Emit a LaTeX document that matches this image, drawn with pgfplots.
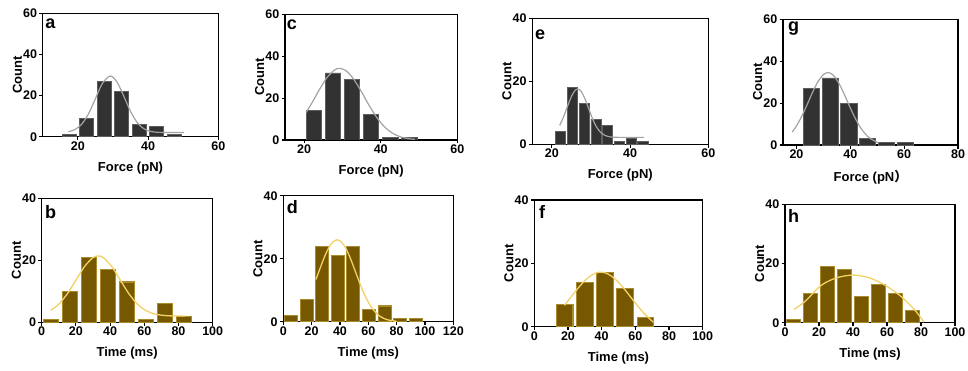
\documentclass[border=0pt]{standalone}
\usepackage{fontspec}
\setmainfont{Liberation Sans}
\newfontfamily\cjk{Noto Sans CJK SC}
\usepackage{pgfplots}
\pgfplotsset{compat=1.18}

\definecolor{darkbar}{HTML}{323232}
\definecolor{darkedge}{HTML}{5E5E5E}
\definecolor{goldbar}{HTML}{765800}
\definecolor{goldedge}{HTML}{A98B2A}
\definecolor{fitgrey}{HTML}{A3A3A3}
\definecolor{fityellow}{HTML}{F2D266}

\tikzset{letter/.style={anchor=base west, inner sep=0pt, font=\fontsize{18}{20}\selectfont\bfseries}}

\pgfplotsset{
 panel/.style={scale only axis, anchor=south west, ymin=0,
   axis line style={line width=1.3pt},
   every tick/.style={black, line width=1.1pt},
   tick align=outside, major tick length=3.5pt,
   xtick pos=bottom, ytick pos=left,
   tick label style={font=\fontsize{12.5}{14}\selectfont\bfseries},
   xticklabel style={inner sep=1pt},
   yticklabel style={inner sep=2pt},
   /pgf/number format/assume math mode=true,
   every axis x label/.style={at={(rel axis cs:0.5,0)}, anchor=north, inner sep=0pt, yshift=-25pt, font=\fontsize{13}{15}\selectfont\bfseries},
   every axis y label/.style={at={(rel axis cs:0,0.5)}, xshift=-20.5pt, rotate=90, anchor=south, inner sep=0pt, font=\fontsize{13}{15}\selectfont\bfseries},
   ylabel=Count,
 },
 darkbars/.style={ybar, fill=darkbar, draw=darkedge, line width=0.9pt},
 goldbars/.style={ybar, fill=goldbar, draw=goldedge, line width=1.1pt},
 fitg/.style={smooth, mark=none, color=fitgrey, line width=1.2pt},
 fity/.style={smooth, mark=none, color=fityellow, line width=1.3pt},
}

\begin{document}
\begin{tikzpicture}[x=1pt,y=1pt]
\useasboundingbox (0,0) rectangle (968,370);

% ---------- a ----------
\begin{axis}[panel, at={(42.7pt,233.3pt)}, width=175.6pt, height=123.4pt,
  xmin=10, xmax=60, ymax=60, xtick={20,40,60}, ytick={0,20,40,60}, xlabel={Force (pN)}]
\addplot[darkbars, bar width=4] coordinates {(17.5,1) (22.5,9) (27.5,27) (32.5,22) (37.5,6) (42.5,5) (47.5,1)};
\addplot[fitg] coordinates {(17.3,2.45) (19,3.34) (21,5.89) (23,11.0) (25,18.47) (27,25.9) (29.2,29.5) (31,27.03) (33,20.07) (35,12.34) (37,6.69) (39,3.69) (41,2.48) (43,2.11) (46,2.0) (50.3,2.0)};
\node[letter, xshift=2.5pt, yshift=-15pt] at (rel axis cs:0,1) {a};
\end{axis}

% ---------- c ----------
\begin{axis}[panel, at={(285pt,230pt)}, width=172.3pt, height=125.7pt,
  xmin=15, xmax=60, ymax=60, xtick={20,40,60}, ytick={0,20,40,60}, xlabel={Force (pN)}]
\addplot[darkbars, bar width=4] coordinates {(22.5,14) (27.5,32) (32.5,29) (37.5,12) (42.5,1) (47.5,1)};
\addplot[fitg] coordinates {(20.5,13.1) (22,17.6) (24,24.1) (26,29.9) (28,33.5) (29.3,34.2) (31,33.0) (33,28.9) (35,22.9) (37,16.4) (39,10.65) (41,6.26) (43,3.33) (45,1.61) (47,0.70) (49,0.28)};
\node[letter, xshift=1.7pt, yshift=-15pt] at (rel axis cs:0,1) {c};
\end{axis}

% ---------- e ----------
\begin{axis}[panel, at={(532.3pt,225.7pt)}, width=176pt, height=126pt,
  xmin=15, xmax=60, ymax=40, xtick={20,40,60}, ytick={0,20,40}, xlabel={Force (pN)}]
\addplot[darkbars, bar width=2.6] coordinates {(22.3,4) (25.3,18) (28.3,13) (31.3,8) (34.3,6) (37.3,1) (40.3,2) (43.3,1)};
\addplot[fitg] coordinates {(22,6.0) (23,8.74) (24,12.05) (25,15.2) (26,17.24) (26.6,17.6) (27.5,16.8) (28.5,14.33) (29.5,11.03) (30.5,7.83) (31.5,5.35) (32.5,3.74) (33.5,2.86) (35,2.34) (37,2.2) (40,2.2) (43.6,2.2)};
\node[letter, xshift=2.7pt, yshift=-21pt] at (rel axis cs:0,1) {e};
\end{axis}

% ---------- g ----------
\begin{axis}[panel, at={(783pt,225pt)}, width=175pt, height=125.7pt,
  xmin=15, xmax=80, ymax=60, xtick={20,40,60,80}, ytick={0,20,40,60}, xlabel={Force (pN{\cjk ）}}]
\addplot[darkbars, bar width=6] coordinates {(25.5,27) (32.5,32) (39.5,20) (46.5,3) (53.5,1) (60.5,1)};
\addplot[fitg] coordinates {(18.4,6.16) (20,9.1) (22,13.8) (24,19.4) (26,25.2) (28,30.3) (30,33.6) (31.7,34.6) (33.5,33.5) (35.5,30.05) (37.5,24.9) (39.5,19.1) (41.5,13.6) (43.5,8.9) (45.5,5.4) (47.5,3.0) (50.5,1.0)};
\node[letter, xshift=5pt, yshift=-12pt] at (rel axis cs:0,1) {g};
\end{axis}

% ---------- b ----------
\begin{axis}[panel, at={(41.7pt,47.7pt)}, width=171pt, height=124pt,
  xmin=0, xmax=100, ymax=40, xtick={0,20,40,60,80,100}, ytick={0,20,40}, xlabel={Time (ms)}]
\addplot[goldbars, bar width=8.8] coordinates {(5.4,1) (16.5,10) (27.6,21) (38.7,17) (49.8,13) (60.9,1) (72.0,6) (83.1,2)};
\addplot[fity] coordinates {(5.3,3.87) (10,5.86) (15,9.22) (20,13.58) (25,17.96) (30,20.87) (33,21.4) (36,20.87) (41,17.96) (46,13.58) (51,9.22) (56,5.86) (61,3.77) (66,2.70) (71,2.24) (76,2.06) (83.8,2.0)};
\node[letter, xshift=3.3pt, yshift=-20pt] at (rel axis cs:0,1) {b};
\end{axis}

% ---------- d ----------
\begin{axis}[panel, at={(283.3pt,48.3pt)}, width=170pt, height=126pt,
  xmin=0, xmax=120, ymax=40, xtick={0,20,40,60,80,100,120}, ytick={0,20,40}, xlabel={Time (ms)}]
\addplot[goldbars, bar width=9.2] coordinates {(5.5,2) (16.5,7) (27.5,24) (38.5,21) (49.5,24) (60.5,4) (71.5,5) (82.5,1) (93.5,1)};
\addplot[fity] coordinates {(23,13.4) (26,17.0) (29,20.5) (32,23.4) (35,25.3) (38,26) (41,25.3) (44,23.4) (47,20.5) (50,17.0) (53,13.4) (56,9.97) (59,7.05) (62,4.73) (65,3.01) (68,1.81) (71,1.04) (74,0.56) (77,0.29) (80,0.14)};
\node[letter, xshift=3.4pt, yshift=-17.6pt] at (rel axis cs:0,1) {d};
\end{axis}

% ---------- f ----------
\begin{axis}[panel, at={(534.3pt,43.3pt)}, width=168.4pt, height=126.7pt,
  xmin=0, xmax=100, ymax=40, xtick={0,20,40,60,80,100}, ytick={0,20,40}, xlabel={Time (ms)}]
\addplot[goldbars, bar width=9.9] coordinates {(18,7) (30,14) (42,17) (54,12) (66,3)};
\addplot[fity] coordinates {(17.9,6.74) (21,8.83) (25,11.54) (29,14.0) (33,15.91) (36.5,16.92) (39.5,17.2) (42.5,16.92) (46,15.91) (50,14.0) (54,11.54) (58,8.83) (62,6.16) (66,3.74) (70.6,1.46)};
\node[letter, xshift=4.7pt, yshift=-18.3pt] at (rel axis cs:0,1) {f};
\end{axis}

% ---------- h ----------
\begin{axis}[panel, at={(785pt,47.3pt)}, width=170pt, height=118.4pt,
  xmin=0, xmax=100, ymax=40, xtick={0,20,40,60,80,100}, ytick={0,20,40}, xlabel={Time (ms)}]
\addplot[goldbars, bar width=8.2] coordinates {(5,1) (15,10) (25,19) (35,18) (45,9) (55,13) (65,10) (75,4)};
\addplot[fity] coordinates {(5.3,4.5) (12,7.3) (21,12.5) (30,15.1) (40,16.1) (50,15.1) (59,12.6) (68,9.0) (76,4.5) (81.8,0.2)};
\node[letter, xshift=3pt, yshift=-18pt] at (rel axis cs:0,1) {h};
\end{axis}

\end{tikzpicture}
\end{document}
